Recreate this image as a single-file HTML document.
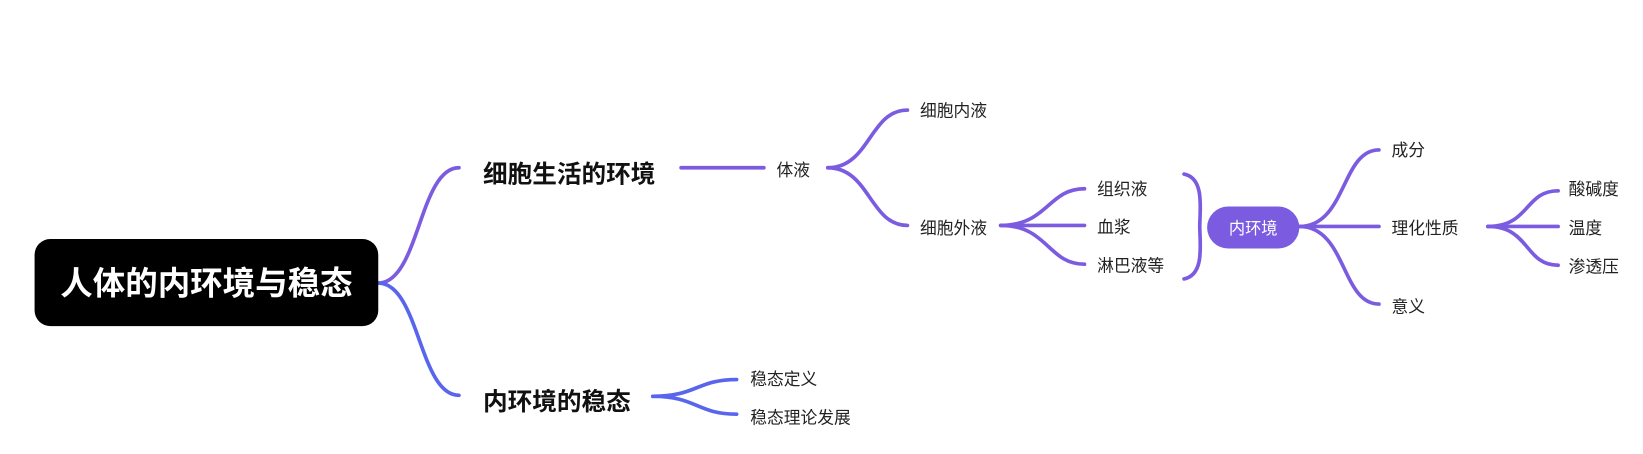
<!DOCTYPE html>
<html><head><meta charset="utf-8"><style>
body{margin:0;background:#fff;}
svg{display:block;font-family:"Liberation Sans","Noto Sans CJK SC",sans-serif;}
.s{font-size:16px;fill:#222;}
.b{font-size:23.5px;font-weight:bold;fill:#111;}
</style></head><body>
<svg width="1643" height="454" viewBox="0 0 1568 433" preserveAspectRatio="none">
<g fill="none" stroke-width="3.5" stroke-linecap="round">
<path d="M361,270 C400,270 400,160 438,160" stroke="#7b5ce1"/>
<path d="M361,270 C400,270 400,377 438,377" stroke="#5865ec"/>
<g stroke="#7b5ce1">
<path d="M650,160 L729,160"/>
<path d="M790,160 C830,160 830,105 866,105"/>
<path d="M790,160 C830,160 830,215 866,215"/>
<path d="M955,215 C1000,215 1000,180 1035,180"/>
<path d="M955,215 L1035,215"/>
<path d="M955,215 C1000,215 1000,252 1035,252"/>
<path d="M1130,166 C1150,170 1145,200 1145,216 C1145,232 1150,262 1130,266"/>
<path d="M1240,216 C1285,216 1280,143 1316,143"/>
<path d="M1240,216 L1316,216"/>
<path d="M1240,216 C1285,216 1280,290 1316,290"/>
<path d="M1420,216 C1460,216 1455,182 1487,182"/>
<path d="M1420,216 L1487,216"/>
<path d="M1420,216 C1460,216 1455,253 1487,253"/>
</g>
<g stroke="#5865ec">
<path d="M623,378 C665,378 665,362 703,362"/>
<path d="M623,378 C665,378 665,395 703,395"/>
</g>
</g>
<rect x="33" y="228" width="328" height="83" rx="15" fill="#000"/>
<text x="197" y="281" text-anchor="middle" font-size="31" font-weight="bold" fill="#fff">人体的内环境与稳态</text>
<rect x="1152" y="197" width="88" height="40" rx="20" fill="#7b5ce1"/>
<text x="1196" y="223" text-anchor="middle" font-size="15.5" fill="#fff">内环境</text>
<text class="b" x="461" y="174">细胞生活的环境</text>
<text class="b" x="461" y="391">内环境的稳态</text>
<text class="s" x="741" y="168">体液</text>
<text class="s" x="878" y="111">细胞内液</text>
<text class="s" x="878" y="223">细胞外液</text>
<text class="s" x="1047" y="186">组织液</text>
<text class="s" x="1047" y="222">血浆</text>
<text class="s" x="1047" y="259">淋巴液等</text>
<text class="s" x="1328" y="149">成分</text>
<text class="s" x="1328" y="223">理化性质</text>
<text class="s" x="1328" y="298">意义</text>
<text class="s" x="1497" y="186">酸碱度</text>
<text class="s" x="1497" y="223">温度</text>
<text class="s" x="1497" y="260">渗透压</text>
<text class="s" x="716" y="367">稳态定义</text>
<text class="s" x="716" y="404">稳态理论发展</text>
</svg>
</body></html>
